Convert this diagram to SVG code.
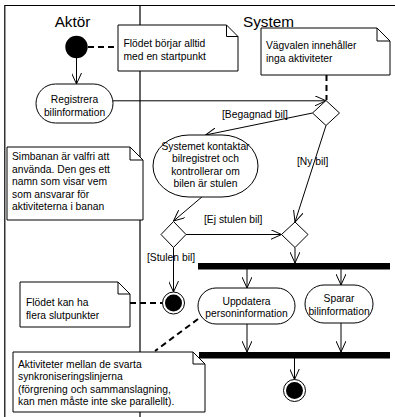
<svg xmlns="http://www.w3.org/2000/svg" width="395" height="417" viewBox="0 0 395 417">
  <style>
    .frame { stroke: #000; stroke-width: 1.2; fill: none; }
    .note { fill: #fff; stroke: #000; stroke-width: 1; }
    .fold { fill: none; stroke: #000; stroke-width: 1; }
    .act { fill: #fff; stroke: #000; stroke-width: 1; }
    .dec { fill: #fff; stroke: #000; stroke-width: 1; }
    .flow { fill: none; stroke: #000; stroke-width: 1; marker-end: url(#open); }
    .anchor { fill: none; stroke: #000; stroke-width: 2; stroke-dasharray: 6 4; }
    .bar { fill: #000; }
    text { font-family: "Liberation Sans", Arial, sans-serif; font-size: 10.3px; fill: #000; }
    .lane { font-size: 15.3px; text-anchor: middle; }
    .c { text-anchor: middle; }
  </style>
  <defs>
    <marker id="open" viewBox="0 0 11 10" refX="11" refY="5" markerWidth="11" markerHeight="10" markerUnits="userSpaceOnUse" orient="auto">
      <path d="M0,0 L11,5 L0,10" fill="none" stroke="#000" stroke-width="1"/>
    </marker>
  </defs>

  <!-- swimlane frame -->
  <g id="swimlanes">
    <path class="frame" d="M395,5.5 H4.8 V417 M140,5.5 V417"/>
    <text class="lane" x="72.5" y="27">Aktör</text>
    <text class="lane" x="268.5" y="27">System</text>
  </g>

  <!-- connectors -->
  <g id="connectors">
    <line class="flow" x1="76.5" y1="58" x2="76.5" y2="84"/>
    <line class="flow" x1="113" y1="100.8" x2="326" y2="100.8"/>
    <line class="flow" x1="312.5" y1="113" x2="205.5" y2="135"/>
    <line class="flow" x1="326" y1="125.5" x2="295" y2="222"/>
    <line class="flow" x1="203" y1="196" x2="173.5" y2="221"/>
    <line class="flow" x1="186" y1="234.5" x2="281.5" y2="234.5"/>
    <line class="flow" x1="173.5" y1="247.5" x2="173.5" y2="292"/>
    <line class="flow" x1="295" y1="247.5" x2="295" y2="263"/>
    <line class="flow" x1="247" y1="269" x2="247" y2="288"/>
    <line class="flow" x1="341" y1="269" x2="341" y2="285"/>
    <line class="flow" x1="247" y1="324" x2="247" y2="352"/>
    <line class="flow" x1="341" y1="323" x2="341" y2="352"/>
    <line class="flow" x1="294.5" y1="358" x2="294.5" y2="379.5"/>
    <!-- note anchors -->
    <line class="anchor" x1="88" y1="47" x2="118" y2="47"/>
    <line class="anchor" x1="326.5" y1="75" x2="326.5" y2="100"/>
    <line class="anchor" x1="130" y1="303" x2="162" y2="303"/>
    <line class="anchor" x1="198" y1="319" x2="155" y2="351"/>
    <!-- guard labels -->
    <text x="222" y="117.5">[Begagnad bil]</text>
    <text x="297" y="165">[Ny bil]</text>
    <text x="204" y="223">[Ej stulen bil]</text>
    <text x="147" y="261">[Stulen bil]</text>
  </g>

  <g id="start">
    <circle cx="76.5" cy="47" r="11.2" fill="#000"/>
  </g>

  <g id="note-start">
    <path class="note" d="M118,25 H226.5 L238,36.5 V71 H118 Z"/>
    <path class="fold" d="M226.5,25 V36.5 H238"/>
    <text x="123.5" y="47">Flödet börjar alltid</text>
    <text x="123.5" y="59.5">med en startpunkt</text>
  </g>

  <g id="note-choices">
    <path class="note" d="M261,28 H377 L390,41 V75 H261 Z"/>
    <path class="fold" d="M377,28 V41 H390"/>
    <text x="266" y="48.5">Vägvalen innehåller</text>
    <text x="266" y="62">inga aktiviteter</text>
  </g>

  <g id="register">
    <rect class="act" x="36" y="84" width="77" height="39" rx="19.5"/>
    <text class="c" x="74.5" y="103">Registrera</text>
    <text class="c" x="74.5" y="115.5">bilinformation</text>
  </g>

  <g id="decision-car">
    <polygon class="dec" points="326,100.5 339.5,113 326,125.5 312.5,113"/>
  </g>

  <g id="note-lane">
    <path class="note" d="M7,147 H130 L143,160 V220 H7 Z"/>
    <path class="fold" d="M130,147 V160 H143"/>
    <text x="12" y="160.3">Simbanan är valfri att</text>
    <text x="12" y="172.8">använda. Den ges ett</text>
    <text x="12" y="185.3">namn som visar vem</text>
    <text x="12" y="197.8">som ansvarar för</text>
    <text x="12" y="210.3">aktiviteterna i banan</text>
  </g>

  <g id="check-register">
    <rect class="act" x="153" y="135" width="105" height="62" rx="36" ry="31"/>
    <text class="c" x="205.5" y="149.5">Systemet kontaktar</text>
    <text class="c" x="205.5" y="162">bilregistret och</text>
    <text class="c" x="205.5" y="174.5">kontrollerar om</text>
    <text class="c" x="205.5" y="187">bilen är stulen</text>
  </g>

  <g id="decision-stolen">
    <polygon class="dec" points="173.5,221.5 186,234.5 173.5,247.5 161,234.5"/>
  </g>

  <g id="merge">
    <polygon class="dec" points="295,222 308,234.5 295,247.5 281.5,234.5"/>
  </g>

  <g id="fork">
    <rect class="bar" x="198" y="263" width="192" height="6.5"/>
  </g>

  <g id="end-stolen">
    <circle cx="173.5" cy="303" r="11" fill="#fff" stroke="#000" stroke-width="1"/>
    <circle cx="173.5" cy="303" r="8.5" fill="#000"/>
  </g>

  <g id="note-end">
    <path class="note" d="M20,282 H118 L130,294 V327 H20 Z"/>
    <path class="fold" d="M118,282 V294 H130"/>
    <text x="26" y="306">Flödet kan ha</text>
    <text x="26" y="319">flera slutpunkter</text>
  </g>

  <g id="update-person">
    <rect class="act" x="198" y="288" width="97" height="36" rx="18"/>
    <text class="c" x="246.5" y="304.5">Uppdatera</text>
    <text class="c" x="246.5" y="316.5">personinformation</text>
  </g>

  <g id="save-car">
    <rect class="act" x="305" y="285" width="68" height="38" rx="19"/>
    <text class="c" x="339" y="302">Sparar</text>
    <text class="c" x="339" y="315">bilinformation</text>
  </g>

  <g id="join">
    <rect class="bar" x="199" y="352" width="191" height="6.5"/>
  </g>

  <g id="note-sync">
    <path class="note" d="M13,352 H193 L205,364 V412 H13 Z"/>
    <path class="fold" d="M193,352 V364 H205"/>
    <text x="18" y="368">Aktiviteter mellan de svarta</text>
    <text x="18" y="380.3">synkroniseringslinjerna</text>
    <text x="18" y="392.5">(förgrening och sammanslagning,</text>
    <text x="18" y="404.7">kan men måste inte ske parallellt).</text>
  </g>

  <g id="end">
    <circle cx="294.5" cy="390.5" r="11" fill="#fff" stroke="#000" stroke-width="1"/>
    <circle cx="294.5" cy="390.5" r="8.5" fill="#000"/>
  </g>
</svg>
